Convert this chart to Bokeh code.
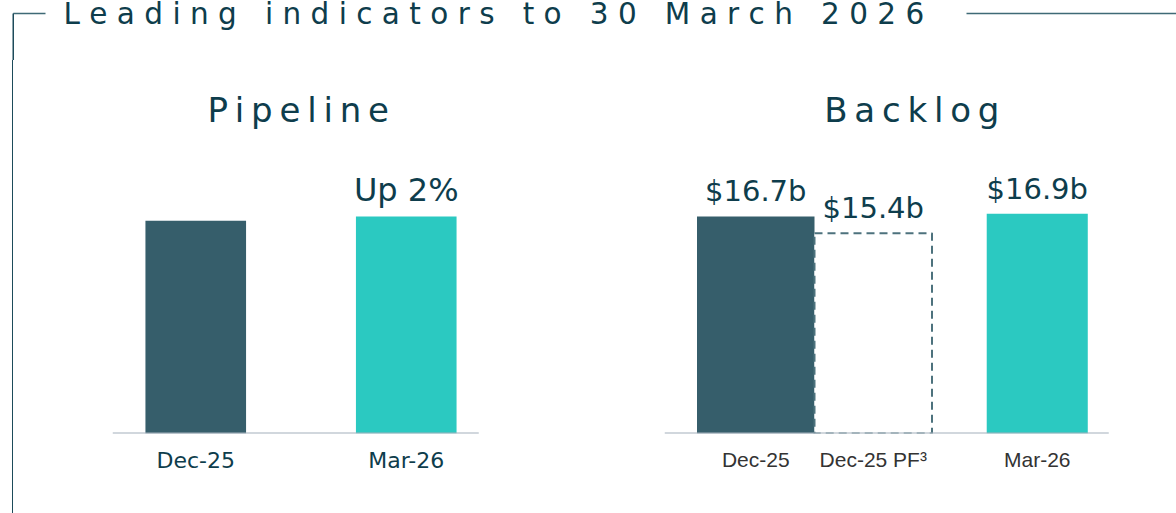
from bokeh.plotting import figure
from bokeh.models import Range1d, FactorRange, Label, ColumnDataSource, Div
from bokeh.layouts import row, column
from bokeh.embed import file_html
from bokeh.resources import INLINE
from bokeh.core.properties import value

# ---------------- data ----------------
title_text = "Leading indicators to 30 March 2026"
pipeline_title = "Pipeline"
backlog_title = "Backlog"

pipeline_periods = ["Dec-25", "Mar-26"]
pipeline_index = [100, 102]          # Dec-25 = 100 (relative size)
pipeline_notes = ["", "Up 2%"]

backlog_groups = ["reported", "reported", "current"]
backlog_periods = ["Dec-25", "Dec-25 PF\u00b3", "Mar-26"]
backlog_values = [16.7, 15.4, 16.9]  # $b
backlog_pro_forma = [False, True, False]
backlog_labels = ["${:.1f}b".format(v) for v in backlog_values]

# ---------------- styles ----------------
DARK = "#365e6b"
TEAL = "#2bc9c1"
INK = "#0e3d4c"
AXIS = "#a3afbb"
GREY_TEXT = "#333333"
DASH = "#4d727d"
FRAME = "#1d4b5a"
pipeline_colors = [DARK, TEAL]
backlog_colors = [DARK, DARK, TEAL]
backlog_widths = [1.0, 1.0, 0.86]

NBSP = "\u00a0"


def spaced(s, sep):
    return sep.join(NBSP if ch == " " else ch for ch in s)


def base_fig(**kw):
    p = figure(toolbar_location=None, output_backend="svg", **kw)
    p.outline_line_color = None
    p.background_fill_color = "white"
    p.border_fill_color = "white"
    return p


# ---------------- top strip with title ----------------
top = base_fig(width=1176, height=60, x_range=Range1d(0, 1176), y_range=Range1d(60, 0),
               x_axis_type=None, y_axis_type=None, min_border=0)
top.segment(x0=[12.75, 966], y0=[13, 13], x1=[45, 1176], y1=[13, 13],
            line_color="#3f6a76", line_width=1.4)
top.segment(x0=[12.75], y0=[13], x1=[12.75], y1=[60], line_color=FRAME, line_width=1.5)
top.add_layout(Label(x=63, y=13.5, text=spaced(title_text, NBSP), text_font="DejaVu Sans",
                     text_font_size="29.5px", text_color=INK, text_baseline="alphabetic",
                     text_align="left"))

# ---------------- left frame strip ----------------
strip = Div(text="", width=40, height=453, margin=(0, 0, 0, 0),
            styles={"background": "linear-gradient(to right, transparent 12px, %s 12px, "
                                  "%s 13.5px, transparent 13.5px)" % (FRAME, FRAME)})


def style_xaxis(p, font, size, color, standoff):
    ax = p.xaxis
    ax.axis_line_color = None
    ax.major_tick_line_color = None
    ax.minor_tick_line_color = None
    ax.major_tick_out = 0
    ax.major_tick_in = 0
    ax.major_label_text_font = font
    ax.major_label_text_font_size = size
    ax.major_label_text_color = color
    ax.major_label_standoff = standoff
    p.grid.visible = False


# ---------------- Pipeline ----------------
P_UNIT = 210.5      # px per category
P_FRAME_W = 505
P_PX_PER = 2.127    # px per index point
FRAME_H = 373
p_pad = (P_FRAME_W / P_UNIT - len(pipeline_periods)) / 2
pipe = base_fig(width=550, height=453,
                x_range=FactorRange(factors=pipeline_periods, range_padding=p_pad,
                                    range_padding_units="absolute"),
                y_range=Range1d(0, FRAME_H / P_PX_PER), y_axis_type=None,
                min_border_left=8, min_border_right=37, min_border_top=0, min_border_bottom=80)
style_xaxis(pipe, "DejaVu Sans", "22px", INK, 14)
psrc = ColumnDataSource(dict(x=pipeline_periods, top=pipeline_index, color=pipeline_colors,
                             note=pipeline_notes))
pipe.vbar(x="x", top="top", width=0.478, source=psrc, fill_color="color", line_color=None)
pipe.text(x="x", y="top", text="note", source=psrc, text_font=value("DejaVu Sans"),
          text_font_size=value("32px"), text_color=INK, text_align="center",
          text_baseline="alphabetic", y_offset=-27)
pipe.segment(x0=[0.5 - 83 / P_UNIT], x1=[1.5 + 72.5 / P_UNIT], y0=[0], y1=[0],
             line_color=AXIS, line_width=2)
pipe.add_layout(Label(x=0.5 + 102.5 / P_UNIT, y=323.5 / P_PX_PER,
                      text=spaced(pipeline_title, "\u2009"), text_font="DejaVu Sans",
                      text_font_size="34px", text_color=INK, text_align="center",
                      text_baseline="alphabetic"))

# ---------------- Backlog ----------------
B_UNIT = 117.5
B_GROUP_PAD = 46.5 / B_UNIT
B_FRAME_W = 540
B_PX_PER = 13.0     # px per $b
b_factors = list(zip(backlog_groups, backlog_periods))
b_pad = (B_FRAME_W / B_UNIT - (len(b_factors) + B_GROUP_PAD)) / 2
back = base_fig(width=586, height=453,
                x_range=FactorRange(factors=b_factors, range_padding=b_pad,
                                    range_padding_units="absolute", group_padding=B_GROUP_PAD,
                                    factor_padding=0),
                y_range=Range1d(0, FRAME_H / B_PX_PER), y_axis_type=None,
                min_border_left=36, min_border_right=10, min_border_top=0, min_border_bottom=80)
style_xaxis(back, "Liberation Sans", "21px", GREY_TEXT, 14)
back.xaxis.group_text_color = None
back.xaxis.group_text_font_size = "1px"
back.xaxis.separator_line_color = None

solid = [i for i, pf in enumerate(backlog_pro_forma) if not pf]
pro = [i for i, pf in enumerate(backlog_pro_forma) if pf]
ssrc = ColumnDataSource(dict(x=[b_factors[i] for i in solid],
                             top=[backlog_values[i] for i in solid],
                             color=[backlog_colors[i] for i in solid],
                             w=[backlog_widths[i] for i in solid]))
fsrc = ColumnDataSource(dict(x=[b_factors[i] for i in pro],
                             top=[backlog_values[i] for i in pro],
                             w=[backlog_widths[i] for i in pro]))
back.vbar(x="x", top="top", width="w", source=ssrc, fill_color="color", line_color=None)
back.vbar(x="x", top="top", width="w", source=fsrc, fill_color="white", line_color=DASH,
          line_width=2, line_dash="8 5")
tsrc = ColumnDataSource(dict(x=b_factors, y=backlog_values, t=backlog_labels))
back.text(x="x", y="y", text="t", source=tsrc, text_font=value("DejaVu Sans"),
          text_font_size=value("29px"), text_color=INK, text_align="center",
          text_baseline="alphabetic", y_offset=-25)
back.segment(x0=[0.5 - 91 / B_UNIT], x1=[0.5 + 353 / B_UNIT], y0=[0], y1=[0],
             line_color=AXIS, line_width=2)
back.add_layout(Label(x=0.5 + 156 / B_UNIT, y=323.5 / B_PX_PER,
                      text=spaced(backlog_title, "\u2009"), text_font="DejaVu Sans",
                      text_font_size="34px", text_color=INK, text_align="center",
                      text_baseline="alphabetic"))

layout = column(top, row(strip, pipe, back))
layout.styles = {"position": "absolute", "left": "0px", "top": "0px"}

open("out.html", "w").write(file_html(layout, INLINE))
